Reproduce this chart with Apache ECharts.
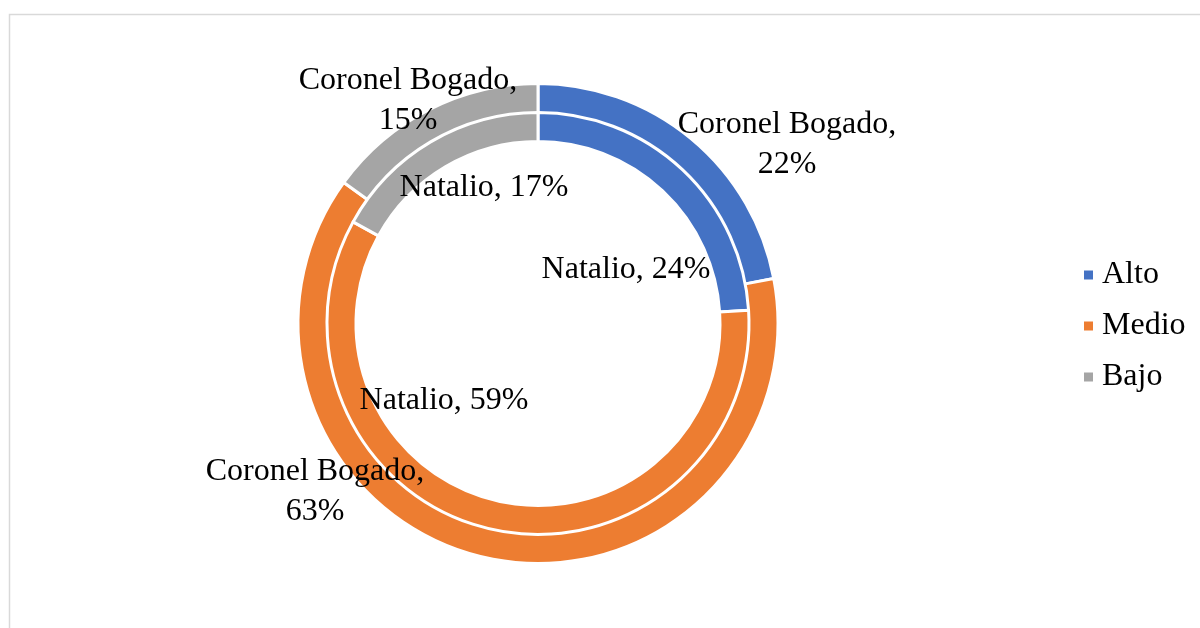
<!DOCTYPE html>
<html>
<head>
<meta charset="utf-8">
<script src="https://cdn.jsdelivr.net/npm/echarts@6/dist/echarts.min.js"></script>
<style>
html,body{margin:0;padding:0;background:#fff;}
#chart{width:1200px;height:628px;}
</style>
</head>
<body>
<div id="chart"></div>
<script>
var categories = ['Alto', 'Medio', 'Bajo'];
var outerName = 'Coronel Bogado';
var innerName = 'Natalio';
var outerValues = [22, 63, 15];
var innerValues = [24, 59, 17];
var colors = ['#4472C4', '#ED7D31', '#A5A5A5'];

// label centre positions (layout only)
var outerLabelPos = [[787, 145], [315, 492], [408, 101]];
var innerLabelPos = [[626, 270], [444, 401], [484, 188]];

function build(vals) {
  return categories.map(function (c, i) { return { name: c, value: vals[i] }; });
}

var labelStyle = {
  show: true,
  color: '#000',
  fontFamily: 'Liberation Serif',
  fontSize: 32,
  lineHeight: 40,
  align: 'center',
  verticalAlign: 'middle'
};

var chart = echarts.init(document.getElementById('chart'));
chart.setOption({
  animation: false,
  color: colors,
  graphic: [{
    type: 'rect',
    shape: { x: 9.5, y: 14.5, width: 1400, height: 800 },
    style: { fill: 'none', stroke: '#d9d9d9', lineWidth: 1.5 },
    silent: true,
    z: -10
  }],
  legend: {
    orient: 'vertical',
    left: 1082,
    top: 259,
    padding: 0,
    itemWidth: 11,
    itemHeight: 11,
    itemGap: 19,
    icon: 'rect',
    data: categories,
    textStyle: { fontFamily: 'Liberation Serif', fontSize: 32, color: '#000', padding: [0, 0, 0, 3] }
  },
  series: [
    {
      name: outerName,
      type: 'pie',
      center: [538, 323.5],
      radius: [210, 240],
      startAngle: 90,
      clockwise: true,
      avoidLabelOverlap: false,
      itemStyle: { borderColor: '#fff', borderWidth: 3 },
      label: Object.assign({}, labelStyle, {
        position: 'inside',
        formatter: function (p) { return outerName + ',\n' + p.value + '%'; }
      }),
      labelLine: { show: false },
      labelLayout: function (p) {
        var pos = outerLabelPos[p.dataIndex];
        return { x: pos[0], y: pos[1], align: 'center', verticalAlign: 'middle' };
      },
      emphasis: { disabled: true },
      data: build(outerValues),
      z: 2
    },
    {
      name: innerName,
      type: 'pie',
      center: [538, 323.5],
      radius: [182, 211],
      startAngle: 90,
      clockwise: true,
      avoidLabelOverlap: false,
      itemStyle: { borderColor: '#fff', borderWidth: 3 },
      label: Object.assign({}, labelStyle, {
        position: 'inside',
        formatter: function (p) { return innerName + ', ' + p.value + '%'; }
      }),
      labelLine: { show: false },
      labelLayout: function (p) {
        var pos = innerLabelPos[p.dataIndex];
        return { x: pos[0], y: pos[1], align: 'center', verticalAlign: 'middle' };
      },
      emphasis: { disabled: true },
      data: build(innerValues),
      z: 2
    }
  ]
});
</script>
</body>
</html>
